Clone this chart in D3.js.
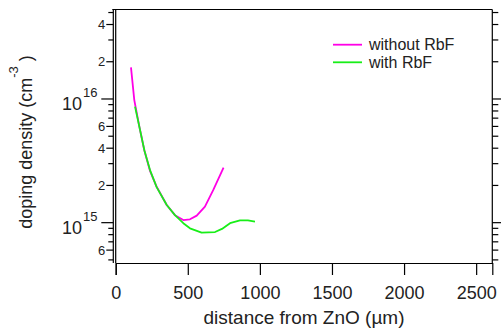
<!DOCTYPE html>
<html>
<head>
<meta charset="utf-8">
<script src="https://cdn.jsdelivr.net/npm/d3@7"></script>
<style>
  body { margin: 0; background: #fff; }
  svg { display: block; font-family: Arial, "Liberation Sans", sans-serif; }
</style>
</head>
<body>
<svg></svg>
<script>
// distance from ZnO (µm) and doping density (cm^-3)
const withoutX = [106, 129, 164, 198, 238, 284, 354, 411, 469, 515, 562, 619, 677, 748];
const withoutY = [1.8e16, 9.8e15, 5.97e15, 3.87e15, 2.62e15, 1.95e15, 1.39e15, 1.15e15, 1.05e15, 1.065e15, 1.14e15, 1.35e15, 1.84e15, 2.79e15];

const withX = [134, 165, 200, 240, 284, 354, 411, 469, 515, 596, 689, 737, 793, 862, 917, 966];
const withY = [8.67e15, 5.89e15, 3.8e15, 2.62e15, 1.94e15, 1.39e15, 1.15e15, 9.9e14, 9.0e14, 8.3e14, 8.4e14, 8.9e14, 9.9e14, 1.045e15, 1.045e15, 1.02e15];

const seriesNames = ['without RbF', 'with RbF'];
const seriesColors = ['#ff00e6', '#18ee18'];

const xTicks = [0, 500, 1000, 1500, 2000, 2500];
const decades = [15, 16];
const minorLabels = [2, 4, 6];

const svgWidth = 501;
const svgHeight = 331;

const svg = d3.select('svg')
    .attr('width', svgWidth)
    .attr('height', svgHeight);

const xScale = d3.scaleLinear()
    .domain([0, 2612])
    .range([115.7, 492.3]);

const yScale = d3.scaleLog()
    .domain([4.72e14, 5.29e16])
    .range([263, 9.5]);

const x0 = xScale(0);
const x1 = xScale.range()[1];
const yTop = yScale.range()[1];
const yBot = yScale.range()[0];
const leftAxisX = x0 - 2.4;

// frame
const frame = svg.append('g')
    .attr('stroke', '#000')
    .attr('stroke-width', 1.2)
    .attr('fill', 'none');

frame.append('line').attr('x1', leftAxisX - 1).attr('x2', x1).attr('y1', yTop).attr('y2', yTop);
frame.append('line').attr('x1', x1).attr('x2', x1).attr('y1', yTop).attr('y2', yBot);
frame.append('line').attr('x1', x0).attr('x2', x0).attr('y1', yTop).attr('y2', yBot);
frame.append('line').attr('x1', leftAxisX).attr('x2', leftAxisX).attr('y1', yTop).attr('y2', yBot);

// bottom axis
const xAxis = svg.append('g')
    .attr('transform', `translate(0, ${yBot})`)
    .call(d3.axisBottom(xScale).tickValues(xTicks).tickSize(12).tickPadding(11).tickFormat(d3.format('d')));

xAxis.select('.domain').attr('stroke-width', 1.2);
xAxis.selectAll('.tick line').attr('stroke-width', 1.2);
xAxis.selectAll('.tick text')
    .attr('font-size', 18)
    .attr('fill', '#222')
    .attr('font-family', 'Arial, "Liberation Sans", sans-serif');

// log ticks on left and right
const yTickVals = [];
for (let e = 14; e <= 16; e++) {
    for (let m = 1; m <= 9; m++) {
        const v = m * Math.pow(10, e);
        if (v >= yScale.domain()[0] && v <= yScale.domain()[1]) yTickVals.push({ v, m });
    }
}

const tickLen = (m) => (m === 1 ? 12 : (minorLabels.includes(m) ? 7 : 5));
const rightLen = (m) => (m === 1 ? 9 : 6);

const yTicks = svg.append('g')
    .attr('stroke', '#000')
    .attr('stroke-width', 1.2);

yTicks.selectAll('line.left')
    .data(yTickVals)
    .enter()
    .append('line')
    .attr('class', 'left')
    .attr('x1', (d) => leftAxisX - tickLen(d.m))
    .attr('x2', leftAxisX)
    .attr('y1', (d) => yScale(d.v))
    .attr('y2', (d) => yScale(d.v));

yTicks.selectAll('line.right')
    .data(yTickVals)
    .enter()
    .append('line')
    .attr('class', 'right')
    .attr('x1', x1)
    .attr('x2', (d) => x1 + rightLen(d.m))
    .attr('y1', (d) => yScale(d.v))
    .attr('y2', (d) => yScale(d.v));

// minor tick labels 2, 4, 6
svg.append('g')
    .selectAll('text')
    .data(yTickVals.filter((d) => minorLabels.includes(d.m)))
    .enter()
    .append('text')
    .attr('x', leftAxisX - 8)
    .attr('y', (d) => yScale(d.v) + 4.5)
    .attr('text-anchor', 'end')
    .attr('font-size', 13)
    .attr('fill', '#222')
    .text((d) => d.m);

// decade labels 10^15, 10^16
const decLabels = svg.append('g')
    .selectAll('g')
    .data(decades)
    .enter()
    .append('g')
    .attr('transform', (d) => `translate(0, ${yScale(Math.pow(10, d))})`);

decLabels.append('text')
    .attr('x', 82)
    .attr('y', 11)
    .attr('text-anchor', 'end')
    .attr('font-size', 18)
    .attr('fill', '#222')
    .text('10');

decLabels.append('text')
    .attr('x', 83)
    .attr('y', -1.5)
    .attr('font-size', 13)
    .attr('fill', '#222')
    .text((d) => d);

// data lines
const line = d3.line()
    .x((d) => xScale(d[0]))
    .y((d) => yScale(d[1]));

const series = [
    d3.zip(withoutX, withoutY),
    d3.zip(withX, withY)
];

svg.append('g')
    .selectAll('path')
    .data(series)
    .enter()
    .append('path')
    .attr('d', line)
    .attr('fill', 'none')
    .attr('stroke', (d, i) => seriesColors[i])
    .attr('stroke-width', 1.8)
    .attr('stroke-linejoin', 'round');

// legend
const legend = svg.append('g')
    .selectAll('g')
    .data(seriesNames)
    .enter()
    .append('g')
    .attr('transform', (d, i) => `translate(333, ${44.7 + i * 17.6})`);

legend.append('line')
    .attr('x1', 0)
    .attr('x2', 29)
    .attr('stroke', (d, i) => seriesColors[i])
    .attr('stroke-width', 1.8);

legend.append('text')
    .attr('x', 36)
    .attr('y', 5.5)
    .attr('font-size', 16)
    .attr('fill', '#222')
    .text((d) => d);

// axis titles
svg.append('text')
    .attr('x', (x0 + x1) / 2)
    .attr('y', 324)
    .attr('text-anchor', 'middle')
    .attr('font-size', 19)
    .attr('fill', '#222')
    .text('distance from ZnO (µm)');

const yTitle = svg.append('text')
    .attr('transform', 'translate(32, 142) rotate(-90)')
    .attr('text-anchor', 'middle')
    .attr('font-size', 18)
    .attr('fill', '#222');

yTitle.append('tspan').text('doping density (cm');
yTitle.append('tspan').attr('dy', -14).attr('font-size', 13).text('-3');
yTitle.append('tspan').attr('dy', 14).text(' )');
</script>
</body>
</html>
